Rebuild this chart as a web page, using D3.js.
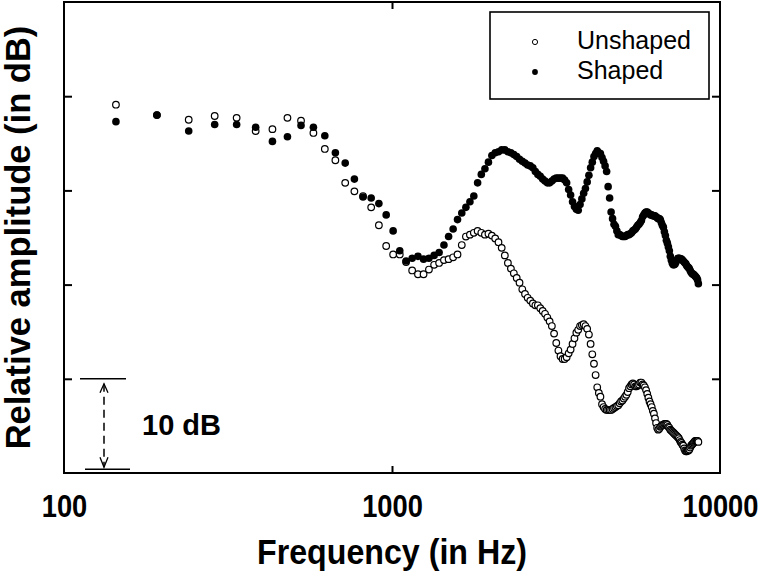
<!DOCTYPE html>
<html>
<head>
<meta charset="utf-8">
<script src="https://cdn.jsdelivr.net/npm/d3@7"></script>
<style>
  html, body { margin: 0; padding: 0; background: #fff; }
  svg { display: block; }
  text { font-family: "Liberation Sans", Arial, Helvetica, sans-serif; fill: #000; }
</style>
</head>
<body>
<svg id="chart" width="760" height="577"></svg>
<script>
// ---- data (frequency bins in Hz, relative amplitude in dB) ----
const frequencies = [144,192,240,288,336,384,432,480,528,576,624,672,720,768,816,864,912,960,1008,1056,
1104,1152,1200,1248,1296,1344,1392,1440,1488,1536,1584,1632,1680,1728,1776,1824,1872,1920,1968,2016,
2064,2112,2160,2208,2256,2304,2352,2400,2448,2496,2544,2592,2640,2688,2736,2784,2832,2880,2928,2976,
3024,3072,3120,3168,3216,3264,3312,3360,3408,3456,3504,3552,3600,3648,3696,3744,3792,3840,3888,3936,
3984,4032,4080,4128,4176,4224,4272,4320,4368,4416,4464,4512,4560,4608,4656,4704,4752,4800,4848,4896,
4944,4992,5040,5088,5136,5184,5232,5280,5328,5376,5424,5472,5520,5568,5616,5664,5712,5760,5808,5856,
5904,5952,6000,6048,6096,6144,6192,6240,6288,6336,6384,6432,6480,6528,6576,6624,6672,6720,6768,6816,
6864,6912,6960,7008,7056,7104,7152,7200,7248,7296,7344,7392,7440,7488,7536,7584,7632,7680,7728,7776,
7824,7872,7920,7968,8016,8064,8112,8160,8208,8256,8304,8352,8400,8448,8496,8544,8592];

const unshaped = [39.1,38.0,37.5,37.9,37.7,36.3,36.5,37.7,37.4,36.1,
34.4,33.2,30.8,29.9,29.4,28.2,26.3,24.1,23.2,23.2,
22.4,21.5,21.1,21.1,21.6,22.1,22.3,22.6,22.7,22.9,
23.2,24.2,25.1,25.3,25.5,25.7,25.5,25.3,25.4,25.2,
24.9,24.5,23.9,23.1,22.3,21.7,21.2,20.7,20.2,19.5,
19.0,18.6,18.3,18.0,17.8,17.8,17.5,17.2,16.9,16.5,
16.1,15.6,14.8,13.8,13.0,12.4,12.1,12.1,12.3,12.7,
13.1,13.7,14.3,14.9,15.2,15.6,15.7,15.8,15.6,15.3,
14.7,13.7,12.6,11.6,10.4,9.1,8.5,8.1,7.3,7.0,
6.8,6.7,6.7,6.7,6.7,6.8,6.9,7.0,7.1,7.2,
7.4,7.6,7.7,7.9,8.1,8.3,8.6,9.0,9.2,9.4,
9.5,9.4,9.2,9.2,9.3,9.4,9.6,9.6,9.4,9.3,
9.1,8.8,8.4,8.0,7.6,7.3,7.0,6.6,6.3,5.8,
5.3,4.8,4.6,4.7,4.9,5.0,5.1,5.1,5.2,5.2,
5.2,5.1,4.9,4.8,4.6,4.5,4.4,4.3,4.2,4.1,
4.0,3.9,3.8,3.7,3.5,3.3,3.2,3.0,2.9,2.6,
2.4,2.3,2.3,2.4,2.4,2.5,2.7,2.9,3.0,3.1,
3.2,3.3,3.4,3.4,3.4,3.4,3.3];

const shaped = [37.3,38.0,36.3,37.0,37.0,36.7,35.2,35.7,36.9,36.7,
35.8,34.0,32.9,31.2,29.3,29.2,28.6,27.4,25.7,23.6,
22.5,22.8,23.0,22.7,22.8,23.1,23.4,24.2,25.1,25.9,
26.9,27.6,28.2,28.8,29.4,30.8,31.7,32.3,33.0,33.7,
34.0,34.1,34.3,34.3,34.1,34.0,33.8,33.6,33.3,33.1,
32.9,32.7,32.6,32.4,32.0,31.7,31.5,31.2,31.0,30.8,
30.8,31.0,31.2,31.3,31.3,31.3,31.3,31.1,30.8,30.1,
29.5,28.8,28.3,28.0,27.9,28.5,29.1,29.7,30.2,30.9,
31.6,32.4,33.0,33.6,33.9,34.2,34.0,33.9,33.5,33.1,
32.6,32.0,30.4,29.2,27.7,27.0,26.4,26.2,25.7,25.3,
25.3,25.2,25.1,25.1,25.1,25.2,25.3,25.3,25.4,25.5,
25.7,25.8,25.9,26.1,26.3,26.4,26.6,26.8,27.2,27.4,
27.6,27.7,27.7,27.6,27.5,27.4,27.4,27.3,27.3,27.3,
27.2,27.1,27.0,27.0,26.9,26.6,26.3,26.1,25.6,25.2,
24.7,24.4,24.0,23.6,23.0,22.6,22.3,22.1,22.1,22.2,
22.4,22.6,22.8,22.8,22.8,22.7,22.7,22.6,22.5,22.4,
22.3,22.2,22.0,21.9,21.8,21.7,21.5,21.3,21.2,21.1,
21.1,21.0,20.9,20.8,20.7,20.5,20.1];

const xTickValues = [100, 1000, 10000];
const xTickLabels = ["100", "1000", "10000"];
const yTickValues = [10, 20, 30, 40];
const seriesNames = ["Unshaped", "Shaped"];
const scaleBarDb = 10;

// ---- layout ----
const svg = d3.select("#chart");
const pLeft = 64, pRight = 720, pTop = 2, pBottom = 473;

const x = d3.scaleLog().domain([100, 10000]).range([pLeft, pRight]);
const y = d3.scaleLinear().domain([0, 50]).range([pBottom, pTop]);

// frame
svg.append("rect")
  .attr("x", pLeft).attr("y", pTop)
  .attr("width", pRight - pLeft).attr("height", pBottom - pTop)
  .attr("fill", "none").attr("stroke", "#000").attr("stroke-width", 2);

// axes (ticks inward)
const styleAxis = g => {
  g.selectAll(".domain").remove();
  g.selectAll(".tick line").attr("stroke", "#000").attr("stroke-width", 2);
};
svg.append("g").attr("transform", `translate(${pLeft},0)`)
  .call(d3.axisLeft(y).tickValues(yTickValues).tickSize(-8).tickFormat(""))
  .call(styleAxis);
svg.append("g").attr("transform", `translate(${pRight},0)`)
  .call(d3.axisRight(y).tickValues(yTickValues).tickSize(-8).tickFormat(""))
  .call(styleAxis);
svg.append("g").attr("transform", `translate(0,${pTop})`)
  .call(d3.axisTop(x).tickValues([1000]).tickSize(-7).tickFormat(""))
  .call(styleAxis);
const xb = svg.append("g").attr("transform", `translate(0,${pBottom})`)
  .call(d3.axisBottom(x).tickValues(xTickValues).tickSize(-7)
        .tickFormat((d, i) => xTickLabels[i]).tickPadding(22))
  .call(styleAxis);
xb.selectAll(".tick line").filter(d => d !== 1000).remove();
xb.selectAll(".tick text")
  .attr("font-family", '"Liberation Sans", Arial, sans-serif')
  .attr("font-size", 31).attr("font-weight", "bold").attr("fill", "#000")
  .attr("transform", "scale(0.88,1)");

// axis titles
svg.append("text")
  .attr("transform", `translate(${(pLeft + pRight) / 2},564) scale(0.92,1)`)
  .attr("text-anchor", "middle")
  .attr("font-size", 35).attr("font-weight", "bold")
  .text("Frequency (in Hz)");
svg.append("text")
  .attr("transform", `translate(30,${(pTop + pBottom) / 2}) rotate(-90)`)
  .attr("text-anchor", "middle")
  .attr("font-size", 34.5).attr("font-weight", "bold")
  .text("Relative amplitude (in dB)");

// data points
const unData = frequencies.map((f, i) => ({ f, v: unshaped[i] }));
const shData = frequencies.map((f, i) => ({ f, v: shaped[i] }));

svg.append("g").selectAll("circle").data(unData).join("circle")
  .attr("cx", d => x(d.f)).attr("cy", d => y(d.v)).attr("r", 3.3)
  .attr("fill", "#fff").attr("stroke", "#000").attr("stroke-width", 1.2);
svg.append("g").selectAll("circle").data(shData).join("circle")
  .attr("cx", d => x(d.f)).attr("cy", d => y(d.v)).attr("r", 3.8)
  .attr("fill", "#000");

// legend
const lg = svg.append("g");
lg.append("rect").attr("x", 490).attr("y", 12).attr("width", 219).attr("height", 87)
  .attr("fill", "#fff").attr("stroke", "#000").attr("stroke-width", 1.6);
seriesNames.forEach((name, i) => {
  const cy = 42 + i * 30;
  lg.append("circle").attr("cx", 535).attr("cy", cy).attr("r", i === 0 ? 2.6 : 2.9)
    .attr("fill", i === 0 ? "#fff" : "#000").attr("stroke", "#000").attr("stroke-width", i === 0 ? 1 : 0);
  lg.append("text").attr("x", 577).attr("y", cy + 7)
    .attr("font-size", 25).text(name);
});

// 10 dB scale bar
const yTop = y(scaleBarDb), yBot = y(0.4);
const sb = svg.append("g").attr("stroke", "#000");
sb.append("line").attr("x1", 80).attr("x2", 126).attr("y1", yTop).attr("y2", yTop).attr("stroke-width", 1.6);
sb.append("line").attr("x1", 85).attr("x2", 130).attr("y1", yBot).attr("y2", yBot).attr("stroke-width", 1.6);
sb.append("line").attr("x1", 104).attr("x2", 104).attr("y1", yTop + 5).attr("y2", yBot - 2)
  .attr("stroke-width", 1.5).attr("stroke-dasharray", "8,5");
sb.append("path").attr("d", `M100,${yTop + 14} L104,${yTop + 5} L108,${yTop + 14}`)
  .attr("fill", "none").attr("stroke-width", 1.3);
sb.append("path").attr("d", `M100,${yBot - 12} L104,${yBot - 2} L108,${yBot - 12}`)
  .attr("fill", "none").attr("stroke-width", 1.3);
svg.append("text").attr("x", 142).attr("y", (yTop + yBot) / 2 + 11)
  .attr("font-size", 29).attr("font-weight", "bold").text(scaleBarDb + " dB");
</script>
</body>
</html>
